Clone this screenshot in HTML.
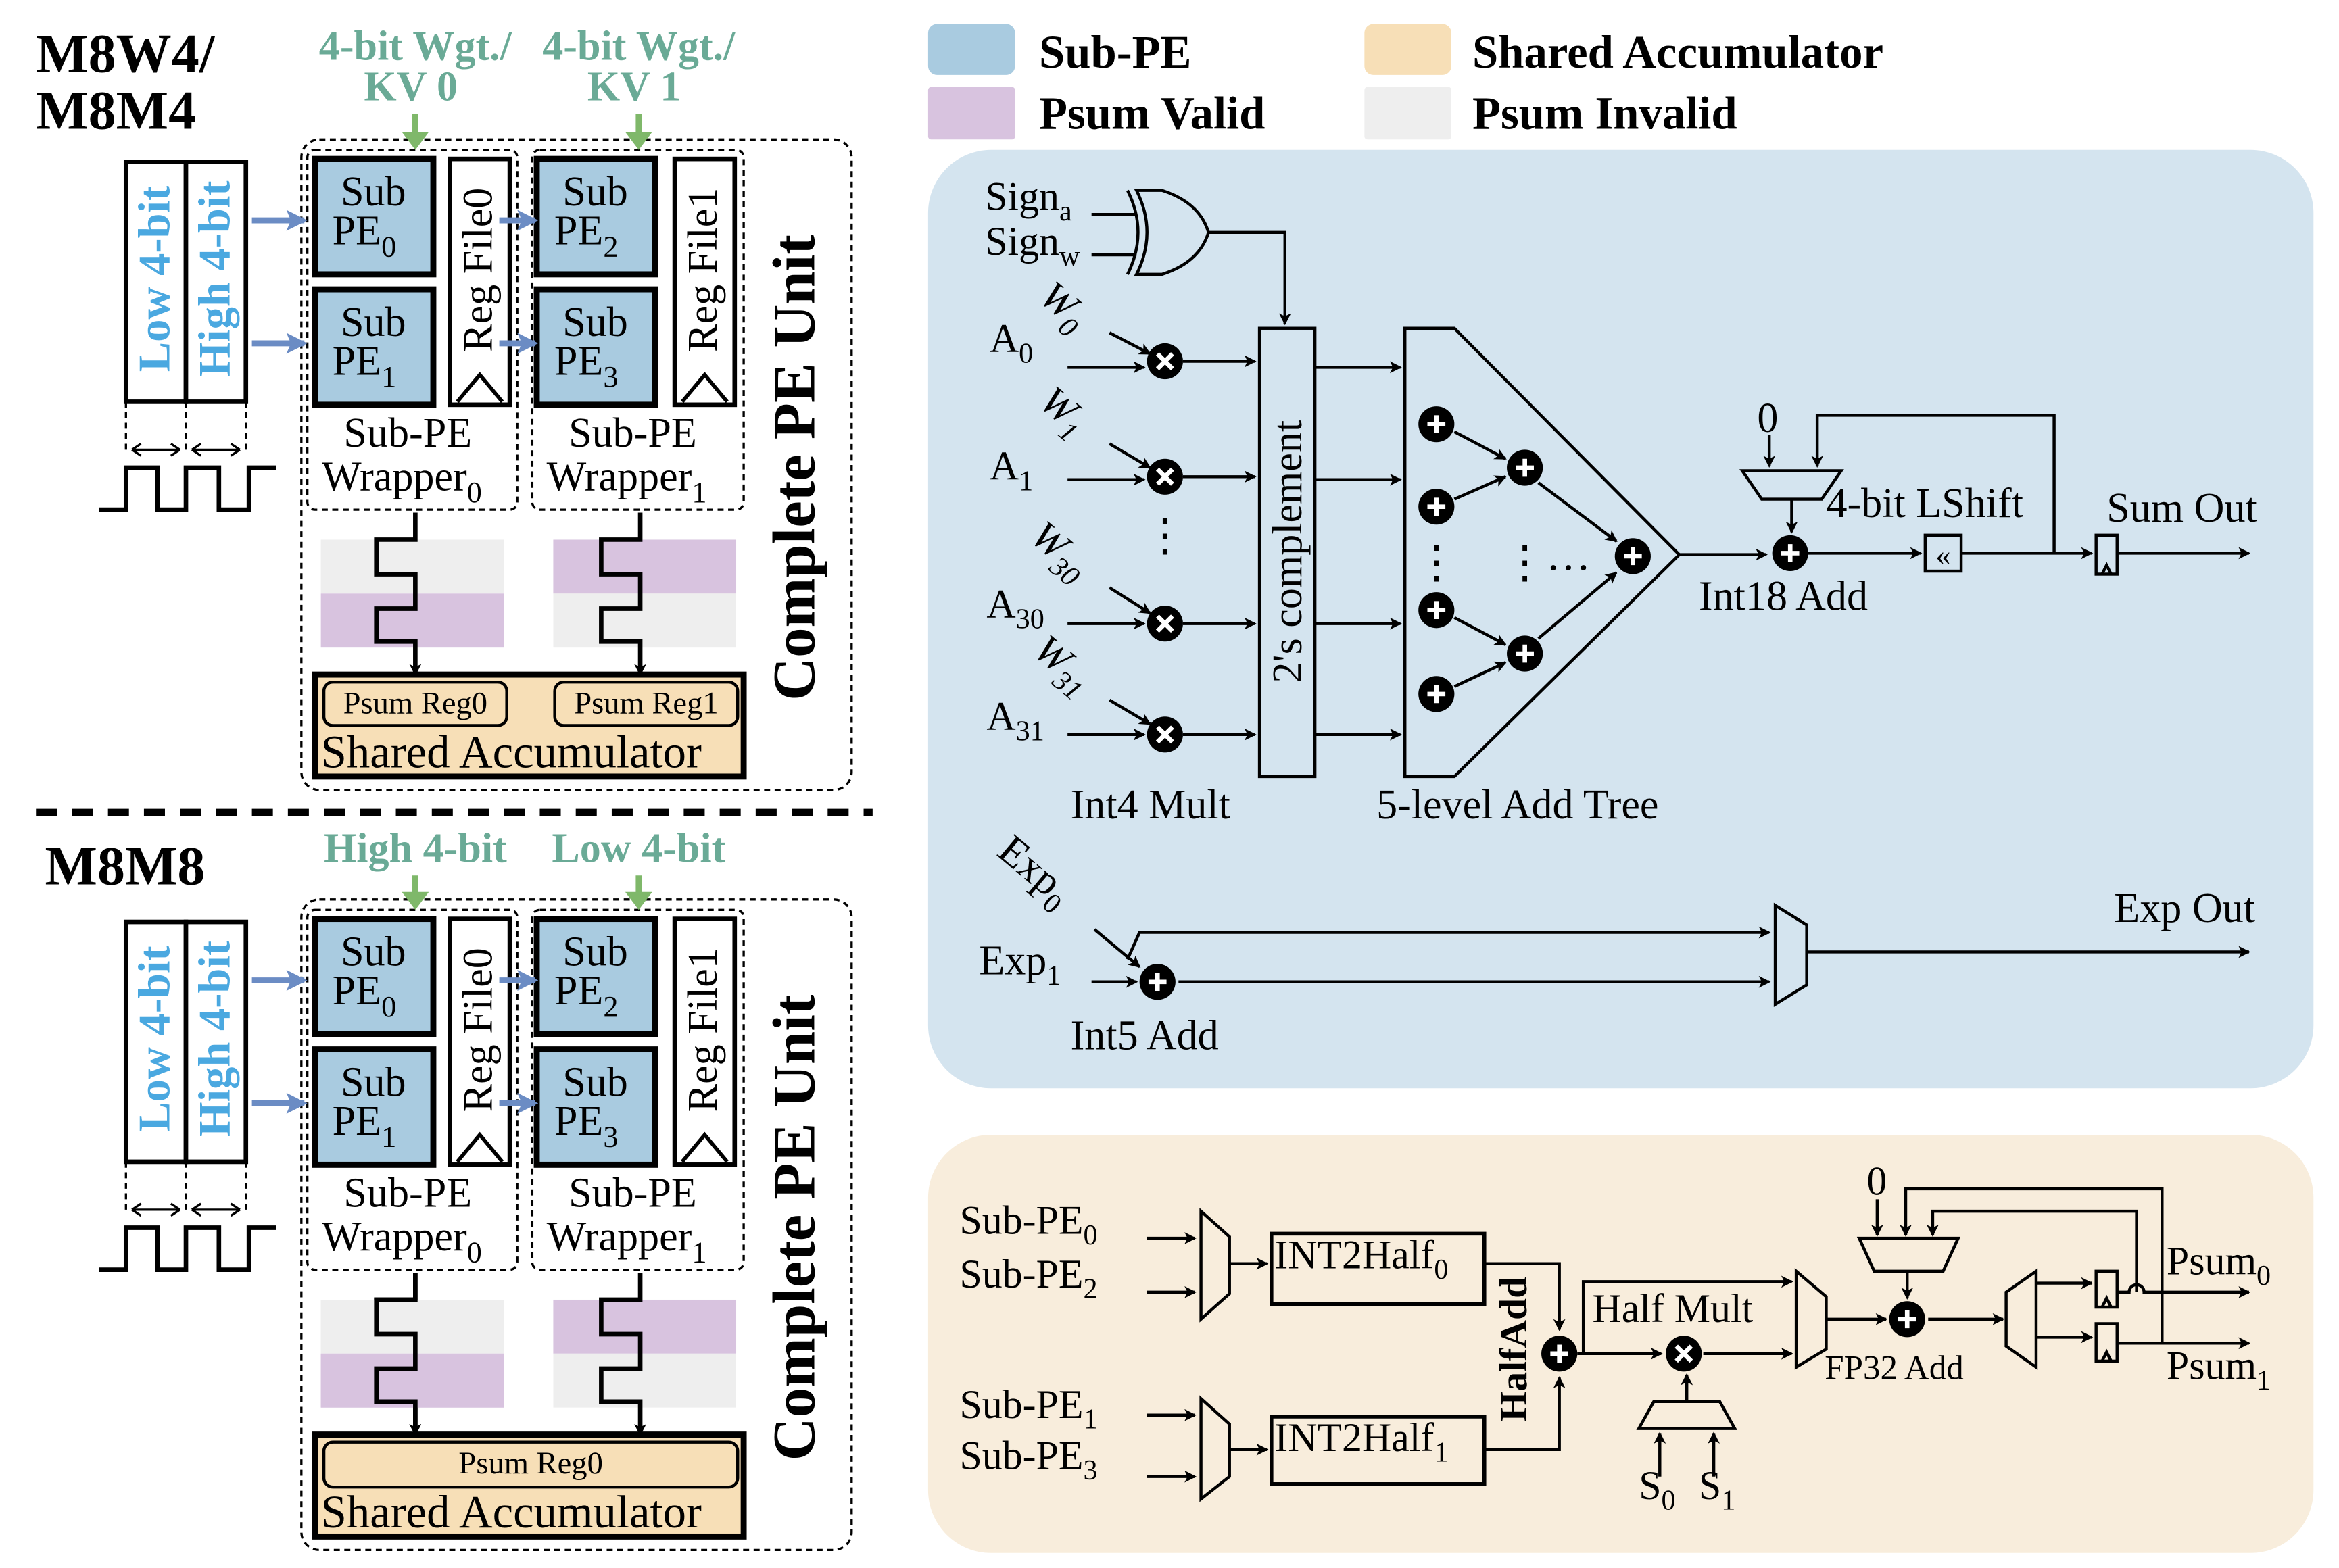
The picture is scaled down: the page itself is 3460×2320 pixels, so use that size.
<!DOCTYPE html>
<html><head><meta charset="utf-8"><style>html,body{margin:0;padding:0;background:#fff}svg{display:block}</style></head><body>
<svg width="3460" height="2320" viewBox="0 0 1560 1046" xmlns="http://www.w3.org/2000/svg" font-family="Liberation Serif, serif">
<defs>
<marker id="a" markerWidth="8" markerHeight="8" refX="7" refY="4" orient="auto" markerUnits="userSpaceOnUse"><path d="M0,0 L8,4 L0,8 L2,4 z" fill="#000"/></marker>
<marker id="ab" markerWidth="14" markerHeight="14" refX="12" refY="7" orient="auto" markerUnits="userSpaceOnUse"><path d="M0,0 L14,7 L0,14 L3,7 z" fill="#6b8cc4"/></marker>
<marker id="ag" markerWidth="14" markerHeight="14" refX="7" refY="12" orient="auto-start-reverse" markerUnits="userSpaceOnUse"><path d="M0,0 L7,14 L14,0 L7,4 z" fill="#7fb86a" transform="rotate(-90 7 7)"/></marker>
<g id="pe">
<circle r="12" fill="#000"/>
<path d="M-6,0 H6 M0,-6 V6" stroke="#fff" stroke-width="3"/>
</g>
<g id="mu">
<circle r="12" fill="#000"/>
<path d="M-5,-5 L5,5 M5,-5 L-5,5" stroke="#fff" stroke-width="3"/>
</g>
</defs>

<!-- legend -->
<rect x="619" y="16" width="58" height="34" rx="6" fill="#a9cbe0"/>
<rect x="619" y="58" width="58" height="35" rx="2" fill="#d8c3df"/>
<rect x="910" y="16" width="58" height="34" rx="6" fill="#f7dfb7"/>
<rect x="910" y="58" width="58" height="35" rx="2" fill="#eeeeee"/>
<g font-weight="bold" font-size="31">
<text x="693" y="45">Sub-PE</text>
<text x="693" y="86">Psum Valid</text>
<text x="982" y="45">Shared Accumulator</text>
<text x="982" y="86">Psum Invalid</text>
</g>

<!-- LEFT HALVES -->
<g id="half">
<g fill="none" stroke="#000" stroke-width="1.5" stroke-dasharray="4,3">
<rect x="201" y="93" width="367" height="434" rx="12"/>
<rect x="205" y="100" width="140" height="240" rx="5"/>
<rect x="355" y="100" width="141" height="240" rx="5"/>
<path d="M84,268 V300 M124,268 V300 M164,268 V300"/>
</g>
<g fill="#a9cbe0" stroke="#000" stroke-width="4">
<rect x="210" y="106" width="79" height="77"/>
<rect x="210" y="193" width="79" height="77"/>
<rect x="358" y="106" width="79" height="77"/>
<rect x="358" y="193" width="79" height="77"/>
</g>
<g fill="#fff" stroke="#000" stroke-width="3">
<rect x="300" y="106" width="40" height="164"/>
<rect x="450" y="106" width="40" height="164"/>
<rect x="84" y="108" width="40" height="160"/>
<rect x="124" y="108" width="40" height="160"/>
</g>
<path d="M305,268 L320,250 L335,268 M455,268 L470,250 L485,268" fill="none" stroke="#000" stroke-width="2.5"/>
<g font-size="28" text-anchor="middle">
<text x="249" y="137">Sub</text><text x="243" y="163">PE<tspan font-size="20" dy="8">0</tspan></text>
<text x="249" y="224">Sub</text><text x="243" y="250">PE<tspan font-size="20" dy="8">1</tspan></text>
<text x="397" y="137">Sub</text><text x="391" y="163">PE<tspan font-size="20" dy="8">2</tspan></text>
<text x="397" y="224">Sub</text><text x="391" y="250">PE<tspan font-size="20" dy="8">3</tspan></text>
<text transform="translate(328,180) rotate(-90)">Reg File0</text>
<text transform="translate(478,180) rotate(-90)">Reg File1</text>
<text x="272" y="298">Sub-PE</text><text x="268" y="327">Wrapper<tspan font-size="20" dy="8">0</tspan></text>
<text x="422" y="298">Sub-PE</text><text x="418" y="327">Wrapper<tspan font-size="20" dy="8">1</tspan></text>
</g>
<g font-size="30" font-weight="bold" fill="#4aa8e0" text-anchor="middle">
<text transform="translate(113,186) rotate(-90)">Low 4-bit</text>
<text transform="translate(153,186) rotate(-90)">High 4-bit</text>
</g>
<g stroke="#6b8cc4" stroke-width="4" fill="none">
<path d="M168,147 H203" marker-end="url(#ab)"/>
<path d="M168,229 H203" marker-end="url(#ab)"/>
<path d="M333,147 H357" marker-end="url(#ab)"/>
<path d="M333,229 H357" marker-end="url(#ab)"/>
</g>
<g stroke="#000" stroke-width="1.5" fill="none">
<path d="M88,300 H120 M128,300 H160"/>
<path d="M88,300 l6,-4 M88,300 l6,4 M120,300 l-6,-4 M120,300 l-6,4 M128,300 l6,-4 M128,300 l6,4 M160,300 l-6,-4 M160,300 l-6,4"/>
</g>
<path d="M66,340 H84 V312 H105 V340 H124 V312 H146 V340 H166 V312 H184" fill="none" stroke="#000" stroke-width="3"/>
<rect x="214" y="360" width="122" height="36" fill="#eeeeee"/>
<rect x="214" y="396" width="122" height="36" fill="#d8c3df"/>
<g stroke="#000" stroke-width="3" fill="none">
<path d="M277,342 V360 H251 V383 H277 V406 H251 V428 H277 V450" marker-end="url(#a)"/>
</g>
<rect x="210" y="450" width="286" height="68" fill="#f7dfb7" stroke="#000" stroke-width="4"/>
<text x="214" y="512" font-size="31">Shared Accumulator</text>
<text transform="translate(543,312) rotate(-90)" font-size="40" font-weight="bold" text-anchor="middle">Complete PE Unit</text>
</g>

<!-- top-specific -->
<rect x="369" y="360" width="122" height="36" fill="#d8c3df"/>
<rect x="369" y="396" width="122" height="36" fill="#eeeeee"/>
<path d="M427,342 V360 H401 V383 H427 V406 H401 V428 H427 V450" fill="none" stroke="#000" stroke-width="3" marker-end="url(#a)"/>
<rect x="216" y="455" width="122" height="29" rx="6" fill="none" stroke="#000" stroke-width="2"/>
<rect x="370" y="455" width="122" height="29" rx="6" fill="none" stroke="#000" stroke-width="2"/>
<text x="277" y="476" font-size="21" text-anchor="middle">Psum Reg0</text>
<text x="431" y="476" font-size="21" text-anchor="middle">Psum Reg1</text>
<text x="24" y="48" font-size="37" font-weight="bold">M8W4/</text>
<text x="24" y="86" font-size="37" font-weight="bold">M8M4</text>
<g font-size="28" font-weight="bold" fill="#6aaa96" text-anchor="middle">
<text x="277" y="40">4-bit Wgt./</text><text x="274" y="67">KV 0</text>
<text x="426" y="40">4-bit Wgt./</text><text x="423" y="67">KV 1</text>
</g>
<g stroke="#7fb86a" stroke-width="4"><path d="M277,76 V96 M426,76 V96"/></g>
<path d="M268,88 L277,100 L286,88 z M417,88 L426,100 L435,88 z" fill="#7fb86a"/>

<path d="M24,542 H582" stroke="#000" stroke-width="5" stroke-dasharray="14,10"/>

<!-- bottom copy -->
<use href="#half" transform="translate(0,507)"/>
<rect x="214" y="867" width="122" height="36" fill="#eeeeee"/>
<rect x="214" y="903" width="122" height="36" fill="#d8c3df"/>
<path d="M277,849 V867 H251 V890 H277 V913 H251 V935 H277 V957" fill="none" stroke="#000" stroke-width="3" marker-end="url(#a)"/>
<rect x="369" y="867" width="122" height="36" fill="#d8c3df"/>
<rect x="369" y="903" width="122" height="36" fill="#eeeeee"/>
<path d="M427,849 V867 H401 V890 H427 V913 H401 V935 H427 V957" fill="none" stroke="#000" stroke-width="3" marker-end="url(#a)"/>
<rect x="216" y="962" width="276" height="30" rx="6" fill="none" stroke="#000" stroke-width="2"/>
<text x="354" y="983" font-size="21" text-anchor="middle">Psum Reg0</text>
<text x="30" y="590" font-size="37" font-weight="bold">M8M8</text>
<g font-size="28" font-weight="bold" fill="#6aaa96" text-anchor="middle">
<text x="277" y="575">High 4-bit</text><text x="426" y="575">Low 4-bit</text>
</g>
<g stroke="#7fb86a" stroke-width="4"><path d="M277,584 V603 M426,584 V603"/></g>
<path d="M268,595 L277,607 L286,595 z M417,595 L426,607 L435,595 z" fill="#7fb86a"/>

<!-- BLUE PANEL -->
<rect x="619" y="100" width="924" height="626" rx="42" fill="#d4e4ef"/>
<g font-size="27">
<text x="657" y="140">Sign<tspan font-size="19" dy="7">a</tspan></text>
<text x="657" y="170">Sign<tspan font-size="19" dy="7">w</tspan></text>
</g>
<g stroke="#000" stroke-width="2" fill="none">
<path d="M728,143 H758 M728,170 H758"/>
<path d="M752,127 Q766,155 752,183"/>
<path d="M758,127 H775 Q800,135 806,155 Q800,175 775,183 H758 Q772,155 758,127 z"/>
<path d="M806,155 H857 V216" marker-end="url(#a)"/>
<rect x="840" y="219" width="37" height="299"/>
<path d="M937,219 H970 L1120,370 L970,518 H937 z"/>
</g>
<text transform="translate(868,368) rotate(-90)" font-size="28" text-anchor="middle">2's complement</text>
<g font-size="27">
<text x="660" y="235">A<tspan font-size="19" dy="7">0</tspan></text>
<text x="660" y="320">A<tspan font-size="19" dy="7">1</tspan></text>
<text x="658" y="412">A<tspan font-size="19" dy="7">30</tspan></text>
<text x="658" y="487">A<tspan font-size="19" dy="7">31</tspan></text>
<g font-style="italic">
<text transform="translate(692,200) rotate(40)">W<tspan font-size="19" dy="7">0</tspan></text>
<text transform="translate(692,270) rotate(40)">W<tspan font-size="19" dy="7">1</tspan></text>
<text transform="translate(686,360) rotate(40)">W<tspan font-size="19" dy="7">30</tspan></text>
<text transform="translate(688,436) rotate(40)">W<tspan font-size="19" dy="7">31</tspan></text>
</g>
</g>
<g stroke="#000" stroke-width="2" fill="none">
<path d="M712,245 H763" marker-end="url(#a)"/><path d="M740,222 L767,236" marker-end="url(#a)"/><path d="M789,241 H837" marker-end="url(#a)"/>
<path d="M712,320 H763" marker-end="url(#a)"/><path d="M740,296 L767,312" marker-end="url(#a)"/><path d="M789,318 H837" marker-end="url(#a)"/>
<path d="M712,416 H763" marker-end="url(#a)"/><path d="M740,392 L767,409" marker-end="url(#a)"/><path d="M789,416 H837" marker-end="url(#a)"/>
<path d="M712,490 H763" marker-end="url(#a)"/><path d="M740,467 L767,483" marker-end="url(#a)"/><path d="M789,490 H837" marker-end="url(#a)"/>
<path d="M877,245 H934" marker-end="url(#a)"/><path d="M877,320 H934" marker-end="url(#a)"/>
<path d="M877,416 H934" marker-end="url(#a)"/><path d="M877,490 H934" marker-end="url(#a)"/>
<path d="M970,288 L1004,306" marker-end="url(#a)"/><path d="M970,333 L1004,318" marker-end="url(#a)"/>
<path d="M970,412 L1004,430" marker-end="url(#a)"/><path d="M970,458 L1004,442" marker-end="url(#a)"/>
<path d="M1026,322 L1078,361" marker-end="url(#a)"/><path d="M1026,426 L1078,382" marker-end="url(#a)"/>
<path d="M1120,370 H1178" marker-end="url(#a)"/>
<path d="M1162,314 H1228 L1215,333 H1175 z"/>
<path d="M1180,290 V311" marker-end="url(#a)"/>
<path d="M1370,368 V277 H1212 V311" marker-end="url(#a)"/>
<path d="M1195,333 V355" marker-end="url(#a)"/>
<path d="M1206,369 H1281" marker-end="url(#a)"/>
<rect x="1284" y="357" width="24" height="24"/>
<path d="M1308,369 H1395" marker-end="url(#a)"/>
<rect x="1398" y="357" width="14" height="26"/>
<path d="M1402,383 L1405,377 L1408,383"/>
<path d="M1412,369 H1500" marker-end="url(#a)"/>
<path d="M730,620 L760,645" marker-end="url(#a)"/>
<path d="M728,655 H758" marker-end="url(#a)"/>
<path d="M752,640 L760,622 H1180" marker-end="url(#a)"/>
<path d="M786,655 H1180" marker-end="url(#a)"/>
<path d="M1184,604 L1205,617 V657 L1184,670 z"/>
<path d="M1205,635 H1500" marker-end="url(#a)"/>
</g>
<text x="1296" y="377" font-size="20" text-anchor="middle">«</text>
<g font-size="30" fill="#000">
<text x="777" y="367" text-anchor="middle">⋮</text>
<text x="958" y="385" text-anchor="middle">⋮</text>
<text x="1017" y="385" text-anchor="middle">⋮</text>
<text x="1046" y="380" text-anchor="middle">…</text>
</g>
<use href="#mu" x="777" y="241"/><use href="#mu" x="777" y="318"/><use href="#mu" x="777" y="416"/><use href="#mu" x="777" y="490"/>
<use href="#pe" x="958" y="283"/><use href="#pe" x="958" y="338"/><use href="#pe" x="958" y="407"/><use href="#pe" x="958" y="463"/>
<use href="#pe" x="1017" y="312"/><use href="#pe" x="1017" y="436"/><use href="#pe" x="1089" y="371"/>
<use href="#pe" x="1194" y="369"/><use href="#pe" x="772" y="655"/>
<g font-size="28">
<text x="1172" y="288">0</text>
<text x="1218" y="345">4-bit LShift</text>
<text x="1405" y="348">Sum Out</text>
<text x="1133" y="407">Int18 Add</text>
<text x="714" y="546">Int4 Mult</text>
<text x="918" y="546">5-level Add Tree</text>
<text transform="translate(664,570) rotate(40)">Exp<tspan font-size="19" dy="7">0</tspan></text>
<text x="653" y="650">Exp<tspan font-size="19" dy="7">1</tspan></text>
<text x="1410" y="615">Exp Out</text>
<text x="714" y="700">Int5 Add</text>
</g>

<!-- BEIGE PANEL -->
<rect x="619" y="757" width="924" height="279" rx="42" fill="#f8eddc"/>
<g font-size="27">
<text x="640" y="823">Sub-PE<tspan font-size="19" dy="7">0</tspan></text>
<text x="640" y="859">Sub-PE<tspan font-size="19" dy="7">2</tspan></text>
<text x="640" y="946">Sub-PE<tspan font-size="19" dy="7">1</tspan></text>
<text x="640" y="980">Sub-PE<tspan font-size="19" dy="7">3</tspan></text>
<text x="850" y="846">INT2Half<tspan font-size="19" dy="7">0</tspan></text>
<text x="850" y="968">INT2Half<tspan font-size="19" dy="7">1</tspan></text>
<text x="1062" y="882">Half Mult</text>
<text x="1093" y="1000">S<tspan font-size="19" dy="7">0</tspan></text>
<text x="1133" y="1000">S<tspan font-size="19" dy="7">1</tspan></text>
<text x="1245" y="797">0</text>
<text x="1445" y="850">Psum<tspan font-size="19" dy="7">0</tspan></text>
<text x="1445" y="920">Psum<tspan font-size="19" dy="7">1</tspan></text>
</g>
<text x="1217" y="920" font-size="23">FP32 Add</text>
<text transform="translate(1018,900) rotate(-90)" font-size="26" font-weight="bold" text-anchor="middle">HalfAdd</text>
<g stroke="#000" stroke-width="2" fill="none">
<path d="M765,826 H797" marker-end="url(#a)"/><path d="M765,862 H797" marker-end="url(#a)"/>
<path d="M765,944 H797" marker-end="url(#a)"/><path d="M765,985 H797" marker-end="url(#a)"/>
<path d="M801,808 L820,825 V863 L801,880 z"/>
<path d="M801,933 L820,950 V985 L801,1000 z"/>
<path d="M820,843 H845" marker-end="url(#a)"/><path d="M820,967 H845" marker-end="url(#a)"/>
<rect x="848" y="823" width="142" height="47" stroke-width="2.5"/>
<rect x="848" y="945" width="142" height="45" stroke-width="2.5"/>
<path d="M990,843 H1040 V887" marker-end="url(#a)"/>
<path d="M990,967 H1040 V919" marker-end="url(#a)"/>
<path d="M1052,903 H1108" marker-end="url(#a)"/>
<path d="M1056,903 V855 H1195" marker-end="url(#a)"/>
<path d="M1136,903 H1195" marker-end="url(#a)"/>
<path d="M1093,953 H1157 L1147,935 H1103 z"/>
<path d="M1125,935 V917" marker-end="url(#a)"/>
<path d="M1107,985 V956" marker-end="url(#a)"/><path d="M1143,985 V956" marker-end="url(#a)"/>
<path d="M1198,848 L1218,865 V900 L1198,912 z"/>
<path d="M1218,880 H1258" marker-end="url(#a)"/>
<path d="M1240,826 H1306 L1296,848 H1250 z"/>
<path d="M1252,800 V824" marker-end="url(#a)"/>
<path d="M1442,896 V793 H1271 V824" marker-end="url(#a)"/>
<path d="M1425,862 V808 H1289 V824" marker-end="url(#a)"/>
<path d="M1272,848 V866" marker-end="url(#a)"/>
<path d="M1286,880 H1336" marker-end="url(#a)"/>
<path d="M1358,848 L1338,862 V898 L1358,912 z"/>
<path d="M1358,856 H1395" marker-end="url(#a)"/><path d="M1358,892 H1395" marker-end="url(#a)"/>
<rect x="1398" y="848" width="14" height="24"/><rect x="1398" y="883" width="14" height="25"/>
<path d="M1402,872 L1405,866 L1408,872 M1402,908 L1405,902 L1408,908"/>
<path d="M1412,862 H1420 A5,5 0 0 1 1430,862 H1500" marker-end="url(#a)"/>
<path d="M1412,896 H1500" marker-end="url(#a)"/>
</g>
<use href="#pe" x="1040" y="903"/><use href="#mu" x="1123" y="903"/><use href="#pe" x="1272" y="880"/>
</svg>
</body></html>
